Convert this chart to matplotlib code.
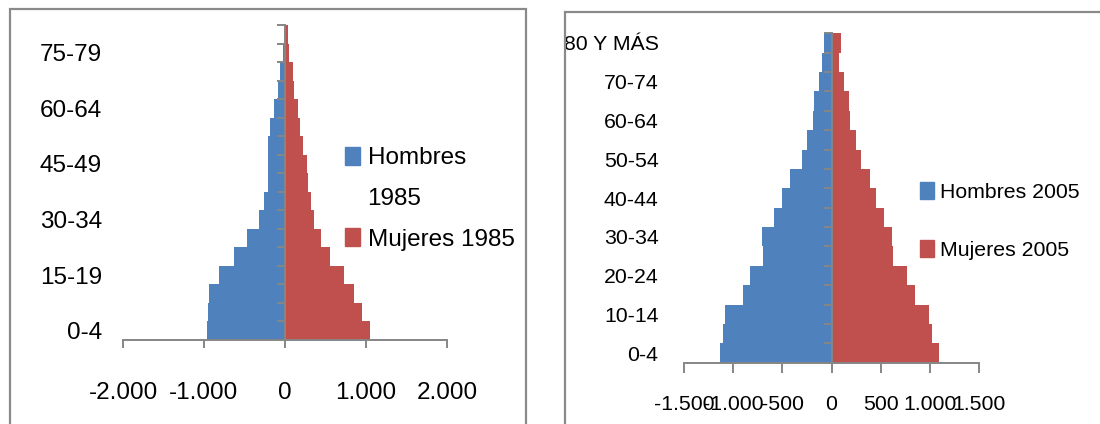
import numpy as np
import matplotlib.pyplot as plt
from matplotlib.patches import Rectangle, Patch
from matplotlib.ticker import FuncFormatter, FixedLocator

plt.rcParams['font.family'] = ['Liberation Sans', 'DejaVu Sans']

# Age groups, bottom to top
grupos = ["0-4", "5-9", "10-14", "15-19", "20-24", "25-29", "30-34", "35-39",
          "40-44", "45-49", "50-54", "55-59", "60-64", "65-69", "70-74",
          "75-79", "80 Y MÁS"]

# 1985 population (men drawn to the left)
hombres_1985 = [963, 954, 938, 817, 631, 465, 324, 257, 207, 207, 207, 183, 133, 91, 66, 25, 8]
mujeres_1985 = [1050, 954, 855, 730, 552, 448, 357, 315, 290, 266, 220, 191, 166, 116, 95, 54, 41]

# 2005 population
hombres_2005 = [1136, 1102, 1078, 905, 831, 695, 705, 586, 508, 424, 298, 254, 186, 173, 125, 92, 78]
mujeres_2005 = [1095, 1027, 993, 847, 763, 627, 614, 532, 451, 390, 302, 254, 186, 173, 125, 78, 92]

series_1985 = ["Hombres 1985", "Mujeres 1985"]
series_2005 = ["Hombres 2005", "Mujeres 2005"]

azul = '#4F81BD'
rojo = '#C0504D'
gris = '#868686'
gris_marco = '#8a8a8a'

W, H = 1100, 424
fig = plt.figure(figsize=(W / 100, H / 100), dpi=100)

# chart frames (bottom / right edges fall outside the picture)
fig.add_artist(Rectangle((10 / W, -0.1), 516 / W, 1.1 - 9 / H, transform=fig.transFigure,
                         fill=False, ec=gris_marco, lw=1.6))
fig.add_artist(Rectangle((565 / W, -0.1), 0.6, 1.1 - 12 / H, transform=fig.transFigure,
                         fill=False, ec=gris_marco, lw=1.6))


def miles(v, pos):
    return f"{v:,.0f}".replace(",", ".")


def piramide(ax, hombres, mujeres, lim, paso, cada, fs, ypad, xpad, xtick_len):
    y = np.arange(len(grupos))
    ax.barh(y, -np.array(hombres), height=1.0, color=azul)
    ax.barh(y, mujeres, height=1.0, color=rojo)
    ax.set_xlim(-lim, lim)
    ax.set_ylim(-0.5, len(grupos) - 0.5)

    for s in ['top', 'right']:
        ax.spines[s].set_visible(False)
    ax.spines['left'].set_position(('data', 0))
    for s in ['left', 'bottom']:
        ax.spines[s].set_color(gris)
        ax.spines[s].set_linewidth(1.4)
    ax.spines['left'].set_zorder(3)

    ax.set_xticks(np.arange(-lim, lim + 1, paso))
    ax.xaxis.set_major_formatter(FuncFormatter(miles))
    ax.tick_params(axis='x', length=xtick_len, width=1.4, color=gris, pad=xpad, labelsize=fs)

    ax.yaxis.set_major_locator(FixedLocator(y[::cada]))
    ax.set_yticklabels(grupos[::cada])
    ax.yaxis.set_minor_locator(FixedLocator(np.arange(len(grupos) + 1) - 0.5))
    ax.tick_params(axis='y', which='major', length=0, pad=ypad, labelsize=fs)
    ax.tick_params(axis='y', which='minor', length=6, width=1.4, color=gris)


ax1 = fig.add_axes([123 / W, 84 / H, 324 / W, 315 / H])
piramide(ax1, hombres_1985, mujeres_1985, 2000, 1000, 3, 17.5, 131.8, 24, 6)

ax2 = fig.add_axes([684 / W, 61.3 / H, 295 / W, 329.4 / H])
piramide(ax2, hombres_2005, mujeres_2005, 1500, 500, 2, 15.3, 124.6, 16, 7.2)

# left legend: first series name wraps onto two lines
h1, y1 = series_1985[0].split(' ', 1)
ax1.legend([Patch(color=azul), Patch(color='none'), Patch(color=rojo)],
           [h1, y1, series_1985[1]],
           loc='upper left', bbox_to_anchor=(345 / W, 1 - 147 / H),
           bbox_transform=fig.transFigure, frameon=False, fontsize=17.5,
           handlelength=0.63, handleheight=0.76, handletextpad=0.3,
           labelspacing=0.75, borderpad=0, borderaxespad=0)

ax2.legend([Patch(color=azul), Patch(color=rojo)], series_2005,
           loc='upper left', bbox_to_anchor=(920 / W, 1 - 182 / H),
           bbox_transform=fig.transFigure, frameon=False, fontsize=15.3,
           handlelength=0.65, handleheight=0.85, handletextpad=0.3,
           labelspacing=1.8, borderpad=0, borderaxespad=0)

fig.savefig('out.png', dpi=100)
